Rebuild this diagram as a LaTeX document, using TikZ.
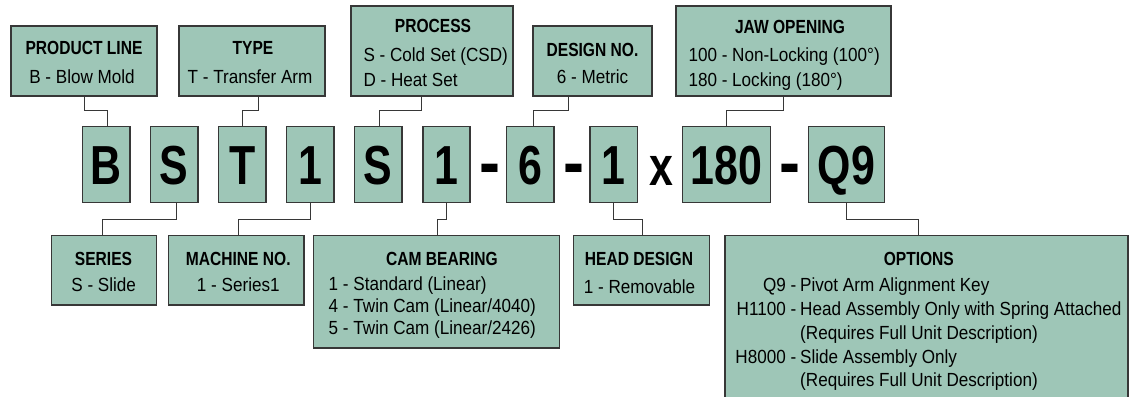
\documentclass[tikz,border=0pt]{standalone}
\usepackage{fontspec}
\setmainfont[FakeStretch=0.9]{Liberation Sans}
\newfontfamily\hdfont[FakeStretch=0.82]{Liberation Sans}
\newfontfamily\bigfont[FakeStretch=0.78]{Liberation Sans}
\newfontfamily\dashfont[FakeStretch=0.9]{Liberation Sans}
\definecolor{boxfill}{RGB}{158,198,183}
\definecolor{edge}{RGB}{55,55,55}
\begin{document}
\begin{tikzpicture}[x=1pt,y=-1pt,
  box/.style={draw=edge, line width=1.4pt, fill=boxfill, inner sep=0pt},
  lbox/.style={box, minimum width=47.3, minimum height=76, text height=40pt, text depth=0pt,
    font=\bigfont\bfseries\fontsize{55}{55}\selectfont},
  bigtxt/.style={inner sep=0pt, anchor=base, font=\bigfont\bfseries\fontsize{55}{55}\selectfont},
  dashtxt/.style={inner sep=0pt, anchor=base, font=\dashfont\bfseries\fontsize{70}{70}\selectfont},
  hd/.style={inner sep=0pt, anchor=base, font=\hdfont\bfseries\fontsize{19}{19}\selectfont},
  tx/.style={inner sep=0pt, anchor=base, font=\fontsize{19}{19}\selectfont},
  txl/.style={tx, anchor=base west},
  txr/.style={tx, anchor=base east},
  conn/.style={draw=edge, line width=1pt}]
\clip (0,0) rectangle (1129,396);
\fill[white] (0,0) rectangle (1129,396);

% ---- top boxes
\node[box, minimum width=146, minimum height=70] (PL) at (84,61) {};
\node[hd] (PLh) at (84,55) {PRODUCT LINE};
\node[tx] (PLt) at (82,83) {B - Blow Mold};

\node[box, minimum width=146, minimum height=70] (TY) at (252,61) {};
\node[hd] (TYh) at (253,55) {TYPE};
\node[tx] (TYt) at (250,83) {T - Transfer Arm};

\node[box, minimum width=162, minimum height=90] (PR) at (432,51) {};
\node[hd] (PRh) at (433,33) {PROCESS};
\node[txl] (PRa) at (363.3,61) {S - Cold Set (CSD)};
\node[txl] (PRb) at (363.3,86) {D - Heat Set};

\node[box, minimum width=119, minimum height=70] (DN) at (592.5,61) {};
\node[hd] (DNh) at (592.5,56.5) {DESIGN NO.};
\node[tx] (DNt) at (592.5,84) {6 - Metric};

\node[box, minimum width=215, minimum height=90] (JO) at (783.5,51) {};
\node[hd] (JOh) at (790,34) {JAW OPENING};
\node[txl] (JOa) at (688.3,61) {100 - Non-Locking (100°)};
\node[txl] (JOb) at (688.3,86) {180 - Locking (180°)};

% ---- code row
\node[lbox] (lB) at (106.3,164.7) {B};
\node[lbox] (lS) at (174.2,164.7) {S};
\node[lbox] (lT) at (242.3,164.7) {T};
\node[lbox] (lA) at (310.3,164.7) {1};
\node[lbox] (lP) at (378.3,164.7) {S};
\node[lbox] (lC) at (446.5,164.7) {1};
\node[dashtxt] (d1) at (490,186) {-};
\node[lbox] (lD) at (530.3,164.7) {6};
\node[dashtxt] (d2) at (573.5,186) {-};
\node[lbox] (lH) at (613.8,164.7) {1};
\node[bigtxt] (xx) at (661.2,185) {x};
\node[lbox, minimum width=88] (lJ) at (726.7,164.7) {180};
\node[dashtxt] (d3) at (790.3,186) {-};
\node[lbox, minimum width=76] (lQ) at (846.3,164.7) {Q9};

% ---- bottom boxes
\node[box, minimum width=105, minimum height=69.3] (SE) at (103.8,270.3) {};
\node[hd] (SEh) at (103.5,265) {SERIES};
\node[tx] (SEt) at (103.7,291) {S - Slide};

\node[box, minimum width=135.3, minimum height=69.3] (MN) at (236.3,270.3) {};
\node[hd] (MNh) at (238.3,265) {MACHINE NO.};
\node[tx] (MNt) at (238.3,291) {1 - Series1};

\node[box, minimum width=246, minimum height=112.3] (CB) at (436.3,291.85) {};
\node[hd] (CBh) at (442,265) {CAM BEARING};
\node[txl] (CBa) at (328.5,290) {1 - Standard (Linear)};
\node[txl] (CBb) at (328.5,312) {4 - Twin Cam (Linear/4040)};
\node[txl] (CBc) at (328.5,334) {5 - Twin Cam (Linear/2426)};

\node[box, minimum width=136, minimum height=69.3] (HD) at (641.3,270.3) {};
\node[hd] (HDh) at (639,265) {HEAD DESIGN};
\node[tx] (HDt) at (639.5,293) {1 - Removable};

\node[box, minimum width=403, minimum height=180] (OP) at (926.5,325.7) {};
\node[hd] (OPh) at (918.8,265) {OPTIONS};
\node[txr] (OPc1) at (796.5,291.7) {Q9 -};
\node[txl] (OPd1) at (800,291.7) {Pivot Arm Alignment Key};
\node[txr] (OPc2) at (796.5,315.5) {H1100 -};
\node[txl] (OPd2) at (800,315.5) {Head Assembly Only with Spring Attached};
\node[txl] (OPd3) at (800,339.3) {(Requires Full Unit Description)};
\node[txr] (OPc4) at (796.5,363.1) {H8000 -};
\node[txl] (OPd4) at (800,363.1) {Slide Assembly Only};
\node[txl] (OPd5) at (800,386.9) {(Requires Full Unit Description)};

% ---- connectors (top)
\draw[conn] (PL.south) -- ++(0,14) -| ([xshift=1pt]lB.north);
\draw[conn] ([xshift=6pt]TY.south) -- ++(0,14) -| (lT.north);
\draw[conn] ([xshift=-11pt]PR.south) -- ++(0,14) -| ([xshift=1.5pt]lP.north);
\draw[conn] ([xshift=-24.5pt]DN.south) -- ++(0,14) -| ([xshift=3.5pt]lD.north);
\draw[conn] (JO.south) -- ++(0,14) -| (lJ.north);

% ---- connectors (bottom)
\draw[conn] ([xshift=1.8pt]lS.south) -- ++(0,16.3) -| ([xshift=-1pt]SE.north);
\draw[conn] (lA.south) -- ++(0,16.3) -| ([xshift=2.4pt]MN.north);
\draw[conn] (lC.south) -- ++(0,16.3) -| ([xshift=1pt]CB.north);
\draw[conn] (lH.south) -- ++(0,16.3) -| ([xshift=1pt]HD.north);
\draw[conn] (lQ.south) -- ++(0,16.3) -| ([xshift=-7.8pt]OP.north);
\end{tikzpicture}
\end{document}
